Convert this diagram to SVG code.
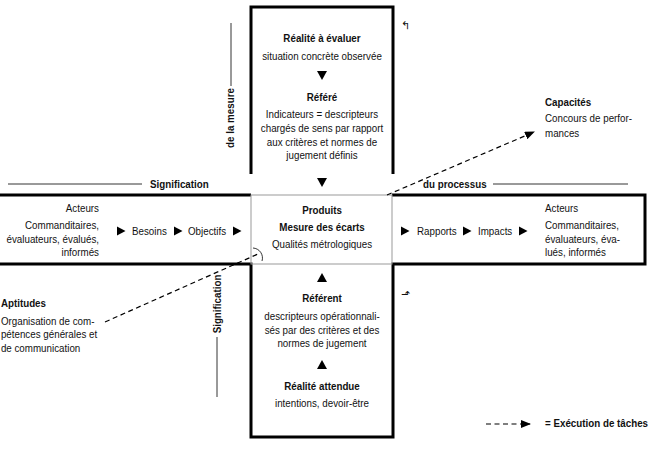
<svg xmlns="http://www.w3.org/2000/svg" width="650" height="454" viewBox="0 0 650 454">
<style>
text{font-family:"Liberation Sans",Arial,sans-serif;font-size:11px;fill:#111}
.b{font-weight:bold}
.c{text-anchor:middle}
.r{text-anchor:end}
.tri{font-family:"DejaVu Sans",sans-serif}
.thick{fill:none;stroke:#000;stroke-width:3;stroke-linejoin:miter}
.thin{fill:none;stroke:#000;stroke-width:0.8}
.dash{fill:none;stroke:#000;stroke-width:1.2;stroke-dasharray:5,3.5}
.ar{fill:#000}
</style>
<defs>
<marker id="ah" markerWidth="10" markerHeight="8" refX="9" refY="4" orient="auto" markerUnits="userSpaceOnUse">
<path d="M0,0 L10,4 L0,8 Z" fill="#000"/>
</marker>
<path id="tri-down" d="M-5,0 H5 L0,9 Z"/>
<path id="tri-up" d="M-5,0 H5 L0,-9 Z"/>
<path id="tri-right" d="M0,-4.5 L8.5,0 L0,4.5 Z"/>
</defs>
<g id="frame">
<path class="thick" d="M251,174 V7 H393 V174"/>
<path class="thick" d="M0,195 H251"/>
<path class="thick" d="M0,264 H251 V437 H393 V264 H645 V195 H392"/>
</g>
<g id="center">
<rect x="251" y="195" width="141" height="69" fill="none" stroke="#999" stroke-width="1"/>
<g transform="matrix(0.89,0,0,1,35.42,0)">
<text class="b c" x="322" y="214">Produits</text>
<text class="b c" x="322" y="231">Mesure des écarts</text>
<text class="c" x="322" y="248">Qualités métrologiques</text>
</g>
</g>
<g id="top">
<g transform="matrix(0.89,0,0,1,35.42,0)">
<text class="b c" x="322" y="42">Réalité à évaluer</text>
<text class="c" x="322" y="60">situation concrète observée</text>
<text class="b c" x="322" y="101">Référé</text>
<text class="c" x="322" y="118">Indicateurs = descripteurs</text>
<text class="c" x="322" y="132">chargés de sens par rapport</text>
<text class="c" x="322" y="146">aux critères et normes de</text>
<text class="c" x="322" y="159">jugement définis</text>
</g>
<use href="#tri-down" class="ar" x="322" y="71"/>
<use href="#tri-down" class="ar" x="322" y="178"/>
</g>
<g id="bottom">
<use href="#tri-up" class="ar" x="322" y="282"/>
<use href="#tri-up" class="ar" x="322" y="369"/>
<g transform="matrix(0.89,0,0,1,35.42,0)">
<text class="b c" x="322" y="302">Référent</text>
<text class="c" x="322" y="320">descripteurs opérationnali-</text>
<text class="c" x="322" y="334">sés par des critères et des</text>
<text class="c" x="322" y="347">normes de jugement</text>
<text class="b c" x="322" y="390">Réalité attendue</text>
<text class="c" x="322" y="407">intentions, devoir-être</text>
</g>
</g>
<g id="left">
<g transform="matrix(0.89,0,0,1,10.89,0)">
<text class="r" x="99" y="212">Acteurs</text>
<text class="r" x="99" y="229">Commanditaires,</text>
<text class="r" x="99" y="243">évaluateurs,  évalués,</text>
<text class="r" x="99" y="256">informés</text>
</g>
<use href="#tri-right" class="ar" x="117" y="231"/>
<text transform="matrix(0.89,0,0,1,14.52,0)" x="132" y="235">Besoins</text>
<use href="#tri-right" class="ar" x="174" y="231"/>
<text transform="matrix(0.89,0,0,1,20.68,0)" x="188" y="235">Objectifs</text>
<use href="#tri-right" class="ar" x="233" y="231"/>
</g>
<g id="right">
<use href="#tri-right" class="ar" x="401" y="231"/>
<text transform="matrix(0.89,0,0,1,45.87,0)" x="417" y="235">Rapports</text>
<use href="#tri-right" class="ar" x="463" y="231"/>
<text transform="matrix(0.89,0,0,1,52.58,0)" x="478" y="235">Impacts</text>
<use href="#tri-right" class="ar" x="519" y="231"/>
<g transform="matrix(0.89,0,0,1,59.95,0)">
<text x="545" y="212">Acteurs</text>
<text x="545" y="229">Commanditaires,</text>
<text x="545" y="243">évaluateurs,  éva-</text>
<text x="545" y="256">lués, informés</text>
</g>
</g>
<g id="capacites">
<g transform="matrix(0.89,0,0,1,59.95,0)">
<text class="b" x="545" y="106">Capacités</text>
<text x="545" y="122">Concours de perfor-</text>
<text x="545" y="137">mances</text>
</g>
</g>
<g id="aptitudes">
<g transform="matrix(0.89,0,0,1,0,0)">
<text class="b" x="1" y="307">Aptitudes</text>
<text x="1" y="325">Organisation de com-</text>
<text x="1" y="338">pétences générales et</text>
<text x="1" y="352">de communication</text>
</g>
</g>
<g id="axis-labels">
<line class="thin" x1="8" y1="184" x2="142" y2="184"/>
<text class="b" transform="matrix(0.89,0,0,1,16.5,0)" x="150" y="188">Signification</text>
<text class="b" transform="matrix(0.89,0,0,1,46.53,0)" x="423" y="188">du processus</text>
<line class="thin" x1="493" y1="184" x2="628" y2="184"/>
<text class="b" transform="translate(234,118) rotate(-90) scale(0.89,1)" text-anchor="middle">de la mesure</text>
<line class="thin" x1="231" y1="23" x2="231" y2="86"/>
<text class="b" transform="translate(221,304) rotate(-90) scale(0.89,1)" text-anchor="middle">Signification</text>
<line class="thin" x1="217" y1="337" x2="217" y2="397"/>
<text class="tri" x="401" y="29" font-size="9">↰</text>
<text class="tri" x="401" y="298" font-size="10">⬏</text>
</g>
<g id="connectors">
<path class="dash" d="M387,195 L534,132" marker-end="url(#ah)"/>
<path class="dash" d="M105,322 L258,254"/>
<path class="thin" d="M253,248 A10,10 0 0 1 262,261"/>
<path class="dash" d="M486,424 L530,424" marker-end="url(#ah)"/>
</g>
<g id="legend">
<text class="b" transform="matrix(0.89,0,0,1,59.95,0)" x="545" y="427" font-size="8.5">= Exécution de tâches</text>
</g>
</svg>
